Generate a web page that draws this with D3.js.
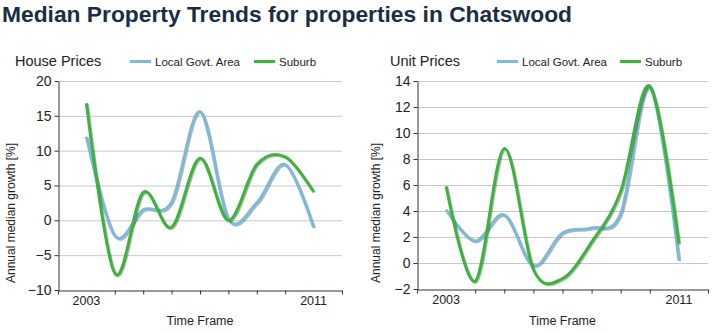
<!DOCTYPE html>
<html>
<head>
<meta charset="utf-8">
<script src="https://cdn.jsdelivr.net/npm/d3@7"></script>
<style>
  html, body { margin: 0; padding: 0; background: #fff; }
  svg { display: block; font-family: "Liberation Sans", Arial, sans-serif; }
</style>
</head>
<body>
<svg id="chart" width="715" height="333"></svg>
<script>
// Annual median growth (%) by year, Chatswood vs. its local government area
const years = [2003, 2004, 2005, 2006, 2007, 2008, 2009, 2010, 2011];
const houseLga    = [12, -2.2, 1.5, 2.6, 15.6, 0.2, 2.5, 8, -1];
const houseSuburb = [16.8, -7.6, 4, -1, 8.9, 0, 8, 9.1, 4.1];
const unitLga     = [4.1, 1.7, 3.7, -0.2, 2.3, 2.7, 3.8, 13.5, 0.2];
const unitSuburb  = [5.9, -1.4, 8.8, -0.5, -1.2, 1.6, 5.5, 13.6, 1.5];

const seriesNames = ["Local Govt. Area", "Suburb"];
const houseTicks = [-10, -5, 0, 5, 10, 15, 20];
const unitTicks = [-2, 0, 2, 4, 6, 8, 10, 12, 14];
const yearLabels = [2003, 2011];
const yearTicks = [2002, 2004, 2005, 2006, 2007, 2008, 2009, 2010, 2012];

const colors = { lga: "#7db9d9", suburb: "#3cb43c" };
const svg = d3.select("#chart");

svg.append("text")
  .attr("x", 2).attr("y", 22)
  .attr("font-size", 22.8).attr("font-weight", "bold")
  .attr("fill", "#1b2d45")
  .text("Median Property Trends for properties in Chatswood");

function panel(cfg) {
  const g = svg.append("g");
  const x = d3.scaleLinear().domain([2002, 2012]).range([cfg.left, cfg.right]);
  const y = d3.scaleLinear().domain(cfg.yDomain).range([cfg.bottom, cfg.top]);

  // heading + legend
  g.append("text").attr("x", cfg.titleX).attr("y", 66)
    .attr("font-size", 14.5).attr("fill", "#222").text(cfg.title);
  const leg = [
    { name: seriesNames[0], color: colors.lga, x: cfg.legX[0] },
    { name: seriesNames[1], color: colors.suburb, x: cfg.legX[1] }
  ];
  leg.forEach(d => {
    g.append("line").attr("x1", d.x).attr("x2", d.x + 21)
      .attr("y1", 61.5).attr("y2", 61.5)
      .attr("stroke", d.color).attr("stroke-width", 3);
    g.append("text").attr("x", d.x + 25).attr("y", 65.5)
      .attr("font-size", 11.5).attr("fill", "#222").text(d.name);
  });

  // gridlines
  g.append("g").selectAll("line").data(cfg.yTicks.slice(1)).join("line")
    .attr("x1", cfg.left).attr("x2", cfg.right)
    .attr("y1", d => y(d) + 0.5).attr("y2", d => y(d) + 0.5)
    .attr("stroke", "#c8c8c8").attr("stroke-width", 1);

  // y axis
  const ya = g.append("g").attr("transform", `translate(${cfg.left + 0.5},0)`)
    .call(d3.axisLeft(y).tickValues(cfg.yTicks).tickSize(4).tickPadding(3).tickSizeOuter(0));
  ya.select(".domain").attr("stroke", "#333");
  ya.selectAll(".tick line").attr("stroke", "#333");
  ya.selectAll(".tick text").attr("font-size", 14).attr("fill", "#222")
    .attr("font-family", "Liberation Sans, Arial, sans-serif");

  // x axis
  const xa = g.append("g").attr("transform", `translate(0,${cfg.bottom + 0.5})`)
    .call(d3.axisBottom(x).tickValues(yearTicks).tickSize(4).tickFormat("").tickSizeOuter(0));
  xa.select(".domain").attr("stroke", "#333");
  xa.selectAll(".tick line").attr("stroke", "#333");
  g.append("g").selectAll("text").data(yearLabels).join("text")
    .attr("x", d => x(d)).attr("y", cfg.bottom + 15)
    .attr("text-anchor", "middle").attr("font-size", 12.5).attr("fill", "#222")
    .text(d => d);

  // axis titles
  g.append("text")
    .attr("x", (cfg.left + cfg.right) / 2).attr("y", 325)
    .attr("text-anchor", "middle").attr("font-size", 12.5).attr("fill", "#222")
    .text("Time Frame");
  g.append("text")
    .attr("transform", `translate(${cfg.yTitleX},213) rotate(-90)`)
    .attr("text-anchor", "middle").attr("font-size", 12).attr("fill", "#222")
    .text("Annual median growth [%]");

  // series lines
  const line = d3.line().x((d, i) => x(years[i])).y(d => y(d))
    .curve(d3.curveCardinal.tension(0));
  cfg.series.forEach(s => {
    g.append("path").attr("d", line(s.values))
      .attr("transform", "translate(1,1)")
      .attr("fill", "none").attr("stroke", "rgba(0,0,0,0.28)")
      .attr("stroke-width", 3);
    g.append("path").attr("d", line(s.values))
      .attr("fill", "none").attr("stroke", s.color)
      .attr("stroke-width", 3).attr("stroke-linejoin", "round");
  });
}

panel({
  left: 58, right: 342, top: 81, bottom: 290,
  yDomain: [-10, 20], yTicks: houseTicks,
  title: "House Prices", titleX: 15, legX: [130, 254], yTitleX: 15,
  series: [
    { values: houseLga, color: colors.lga },
    { values: houseSuburb, color: colors.suburb }
  ]
});

panel({
  left: 417, right: 708, top: 81, bottom: 289,
  yDomain: [-2, 14], yTicks: unitTicks,
  title: "Unit Prices", titleX: 390, legX: [497, 620], yTitleX: 380,
  series: [
    { values: unitLga, color: colors.lga },
    { values: unitSuburb, color: colors.suburb }
  ]
});
</script>
</body>
</html>
